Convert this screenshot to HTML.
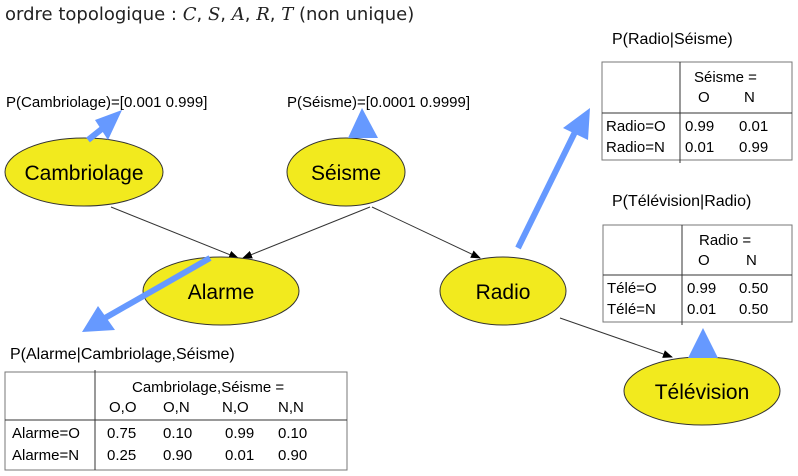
<!DOCTYPE html>
<html><head><meta charset="utf-8"><style>
body{margin:0;background:#fff}
svg{display:block;font-family:"Liberation Sans",sans-serif}
</style></head><body>
<svg width="798" height="476" viewBox="0 0 798 476">
<defs><marker id="ah" markerWidth="10" markerHeight="8" refX="9" refY="4" orient="auto"><path d="M0,0 L10,4 L0,8 z" fill="#000"/></marker></defs>
<text x="5" y="20" font-size="18" font-family="DejaVu Sans, sans-serif" fill="#222">ordre topologique : <tspan font-style="italic" font-family="DejaVu Serif, serif">C</tspan>, <tspan font-style="italic" font-family="DejaVu Serif, serif">S</tspan>, <tspan font-style="italic" font-family="DejaVu Serif, serif">A</tspan>, <tspan font-style="italic" font-family="DejaVu Serif, serif">R</tspan>, <tspan font-style="italic" font-family="DejaVu Serif, serif">T</tspan> (non unique)</text>

<g stroke="#333" stroke-width="1" fill="none">
<line x1="111" y1="207" x2="238" y2="258" marker-end="url(#ah)"/>
<line x1="370" y1="207" x2="243" y2="258" marker-end="url(#ah)"/>
<line x1="372" y1="207" x2="480" y2="258" marker-end="url(#ah)"/>
<line x1="560" y1="318" x2="672" y2="357" marker-end="url(#ah)"/>
</g>

<g fill="#f2ea1e" stroke="#333" stroke-width="1">
<ellipse cx="84" cy="172" rx="79" ry="34"/>
<ellipse cx="346" cy="172" rx="59" ry="34"/>
<ellipse cx="221" cy="291" rx="78" ry="34"/>
<ellipse cx="503" cy="291" rx="63" ry="34"/>
<ellipse cx="702" cy="391" rx="78" ry="34"/>
</g>
<g font-size="21" text-anchor="middle" fill="#000">
<text x="84" y="180">Cambriolage</text>
<text x="346" y="180">Séisme</text>
<text x="221" y="299">Alarme</text>
<text x="503" y="299">Radio</text>
<text x="702" y="399">Télévision</text>
</g>

<g stroke="#6699ff" stroke-width="6" fill="#6699ff">
<line x1="88" y1="140" x2="108" y2="124"/><polygon points="122,110 95,120 108,140" stroke="none"/>
<polygon points="362,108 348,138 378,138" stroke="none"/>
<line x1="518" y1="248" x2="576" y2="130"/><polygon points="590,108 563,128 588,140" stroke="none"/>
<line x1="210" y1="258" x2="105" y2="318"/><polygon points="82,332 98,306 115,330" stroke="none"/>
<polygon points="703,328 688,358 718,358" stroke="none"/>
</g>

<g font-size="15" fill="#000">
<text x="6" y="107">P(Cambriolage)=[0.001 0.999]</text>
<text x="287" y="107">P(Séisme)=[0.0001 0.9999]</text>
<text x="612" y="44" font-size="16">P(Radio|Séisme)</text>
<text x="612" y="206" font-size="16">P(Télévision|Radio)</text>
<text x="10" y="359" font-size="16">P(Alarme|Cambriolage,Séisme)</text>
</g>

<g font-size="15">
<rect x="602" y="62" width="190" height="98" fill="none" stroke="#777"/>
<line x1="680" y1="62" x2="680" y2="163" stroke="#333"/>
<line x1="602" y1="113" x2="792" y2="113" stroke="#333"/>
<text x="694" y="82">Séisme =</text><text x="698" y="102">O</text><text x="744" y="102">N</text>
<text x="606" y="131">Radio=O</text><text x="685" y="131">0.99</text><text x="739" y="131">0.01</text>
<text x="606" y="152">Radio=N</text><text x="685" y="152">0.01</text><text x="739" y="152">0.99</text>
</g>
<g font-size="15">
<rect x="603" y="225" width="189" height="97" fill="none" stroke="#777"/>
<line x1="682" y1="225" x2="682" y2="325" stroke="#333"/>
<line x1="603" y1="275" x2="792" y2="275" stroke="#333"/>
<text x="699" y="245">Radio =</text><text x="698" y="265">O</text><text x="746" y="265">N</text>
<text x="607" y="293">Télé=O</text><text x="687" y="293">0.99</text><text x="739" y="293">0.50</text>
<text x="607" y="314">Télé=N</text><text x="687" y="314">0.01</text><text x="739" y="314">0.50</text>
</g>
<g font-size="15">
<rect x="5" y="372" width="342" height="98" fill="none" stroke="#777"/>
<line x1="95" y1="370" x2="95" y2="470" stroke="#333"/>
<line x1="5" y1="420" x2="347" y2="420" stroke="#333"/>
<text x="132" y="392">Cambriolage,Séisme =</text>
<text x="109" y="412">O,O</text><text x="163" y="412">O,N</text><text x="222" y="412">N,O</text><text x="278" y="412">N,N</text>
<text x="12" y="438">Alarme=O</text><text x="107" y="438">0.75</text><text x="163" y="438">0.10</text><text x="225" y="438">0.99</text><text x="278" y="438">0.10</text>
<text x="12" y="460">Alarme=N</text><text x="107" y="460">0.25</text><text x="163" y="460">0.90</text><text x="225" y="460">0.01</text><text x="278" y="460">0.90</text>
</g>
</svg>
</body></html>
